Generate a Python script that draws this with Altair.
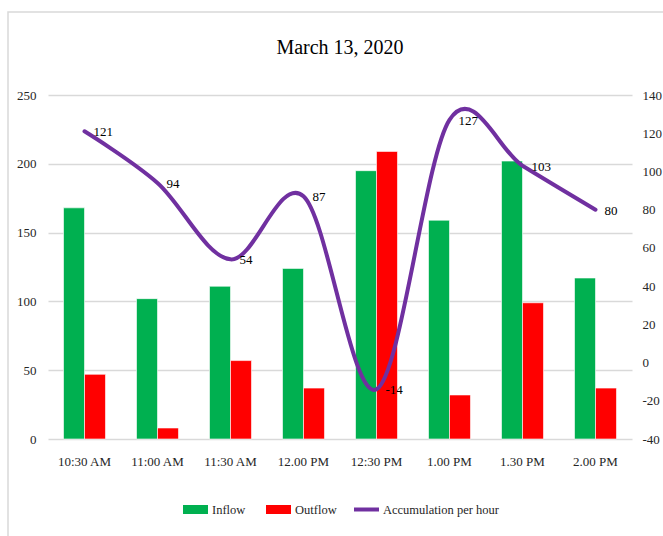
import altair as alt
import pandas as pd

# Half-hourly flows for March 13, 2020
times = ["10:30 AM", "11:00 AM", "11:30 AM", "12.00 PM", "12:30 PM", "1.00 PM", "1.30 PM", "2.00 PM"]
inflow = [168, 102, 111, 124, 195, 159, 202, 117]
outflow = [47, 8, 57, 37, 209, 32, 99, 37]
accumulation = [121, 94, 54, 87, -14, 127, 103, 80]

bar_series = ["Inflow", "Outflow"]
bar_colors = ["#00B050", "#FF0000"]
line_series = ["Accumulation per hour"]
line_colors = ["#7030A0"]

FONT = "Liberation Serif"
TEXT = "#262626"
GRID = "#D9D9D9"

bars_df = pd.DataFrame(
    [{"time": t, "series": "Inflow", "value": v} for t, v in zip(times, inflow)]
    + [{"time": t, "series": "Outflow", "value": v} for t, v in zip(times, outflow)]
)
line_df = pd.DataFrame(
    {"time": times, "series": "Accumulation per hour", "accum": accumulation}
)

x_enc = alt.X(
    "time:N",
    sort=times,
    scale=alt.Scale(paddingInner=0.425, paddingOuter=0.2125),
    axis=alt.Axis(
        title=None, labelAngle=0, ticks=False, domain=False, labelPadding=16,
        labelFont=FONT, labelFontSize=13, labelColor=TEXT,
    ),
)

legend_common = dict(
    title=None,
    orient="none",
    direction="horizontal",
    padding=0,
    symbolSize=625,
    symbolStrokeWidth=0,
    labelFont=FONT,
    labelFontSize=12.5,
    labelColor=TEXT,
    labelOffset=4,
    columnPadding=20,
)

bars = (
    alt.Chart(bars_df)
    .mark_bar(stroke="white", strokeWidth=0.6)
    .encode(
        x=x_enc,
        xOffset=alt.XOffset("series:N", sort=bar_series),
        y=alt.Y(
            "value:Q",
            scale=alt.Scale(domain=[0, 250], nice=False),
            axis=alt.Axis(
                title=None, values=[0, 50, 100, 150, 200, 250], grid=True,
                gridColor=GRID, gridWidth=1.5, ticks=False, domain=False,
                labelPadding=12, labelFont=FONT, labelFontSize=13, labelColor=TEXT,
            ),
        ),
        color=alt.Color(
            "series:N",
            scale=alt.Scale(domain=bar_series, range=bar_colors),
            legend=alt.Legend(
                legendX=135, legendY=402,
                symbolType="M-1,-0.36H1V0.36H-1Z",
                **legend_common,
            ),
        ),
    )
)

y_right = alt.Y(
    "accum:Q",
    scale=alt.Scale(domain=[-40, 140], nice=False),
    axis=alt.Axis(
        title=None, orient="right", values=list(range(-40, 141, 20)), grid=False,
        ticks=False, domain=False, labelPadding=10, labelExpr="'' + datum.value",
        labelFont=FONT, labelFontSize=13, labelColor=TEXT,
    ),
)

line = (
    alt.Chart(line_df)
    .mark_line(interpolate="cardinal", strokeWidth=4, strokeCap="round")
    .encode(
        x=x_enc,
        y=y_right,
        color=alt.Color(
            "series:N",
            scale=alt.Scale(domain=line_series, range=line_colors),
            legend=alt.Legend(
                legendX=306, legendY=402,
                symbolType="M-1,-0.16H1V0.16H-1Z",
                symbolFillColor="#7030A0",
                **legend_common,
            ),
        ),
    )
)

labels = (
    alt.Chart(line_df)
    .transform_calculate(label="'' + datum.accum")
    .mark_text(align="left", baseline="middle", dx=9, dy=1, font=FONT, fontSize=13, color="#000000")
    .encode(x=x_enc, y=y_right, text="label:N")
)

# light frame around the chart area
frame = (
    alt.Chart(pd.DataFrame({"k": [0]}))
    .mark_rect(fill=None, stroke=GRID, strokeWidth=1.5)
    .encode(x=alt.value(-40), x2=alt.value(700), y=alt.value(-83), y2=alt.value(600))
)

chart = (
    alt.layer(bars, alt.layer(line, labels), frame)
    .resolve_scale(y="independent", color="independent")
    .resolve_legend(color="independent")
    .properties(
        width=584,
        height=344,
        title=alt.TitleParams(
            "March 13, 2020", font=FONT, fontSize=20, fontWeight="normal",
            color="#000000", anchor="middle", offset=0, baseline="alphabetic", dy=63,
        ),
        autosize=alt.AutoSizeParams(type="none"),
        padding={"left": 48, "top": 95, "right": 31, "bottom": 97},
        background="white",
    )
    .configure_view(stroke=None)
)

chart.save("out.html", embed_options={"renderer": "svg", "actions": False})
